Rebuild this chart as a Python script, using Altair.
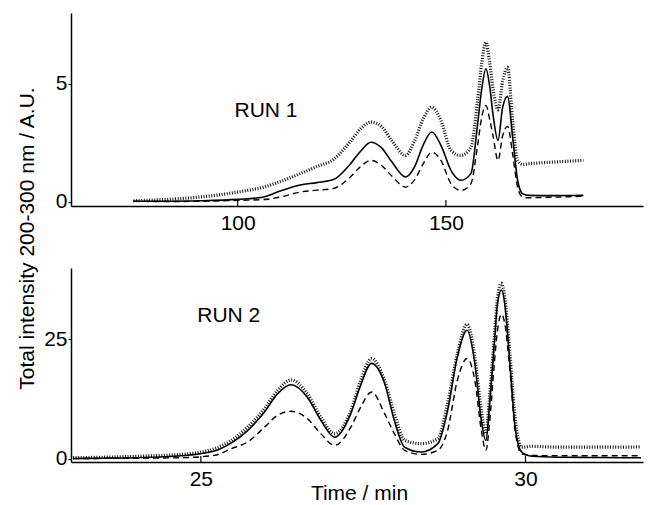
import altair as alt
import pandas as pd

# ---------------- data ----------------
# RUN 1 (top panel)
t1 = [75, 83, 91, 100, 106, 110, 115, 119, 123, 127, 129.5, 132, 134.5, 137, 140.3,
      142.5, 144.5, 146.6, 148.8, 151.2, 153.6, 156, 157.6, 158.6, 159.6, 160.5,
      161.3, 162.5, 163.6, 164.8, 166, 167.2, 168.4, 170, 175, 183]
solid1 = [0.03, 0.03, 0.05, 0.11, 0.2, 0.45, 0.72, 0.82, 0.95, 1.6, 2.15, 2.53, 2.3,
          1.7, 1.06, 1.5, 2.4, 2.96, 2.4, 1.34, 0.92, 1.2, 3.3, 4.8, 5.64, 4.9, 3.7,
          2.6, 4.0, 4.47, 2.75, 0.92, 0.35, 0.28, 0.27, 0.28]
dashed1 = [0.03, 0.02, 0.03, 0.07, 0.1, 0.2, 0.42, 0.5, 0.57, 1.05, 1.5, 1.76, 1.55,
           1.1, 0.63, 0.95, 1.6, 2.11, 1.76, 0.78, 0.49, 0.78, 2.4, 3.6, 4.09, 3.5,
           2.8, 1.76, 2.8, 3.2, 2.04, 0.63, 0.21, 0.18, 0.2, 0.24]
dotted1 = [0.05, 0.11, 0.21, 0.42, 0.62, 0.85, 1.2, 1.5, 1.8, 2.55, 3.1, 3.38, 3.2,
           2.6, 1.97, 2.6, 3.5, 4.01, 3.45, 2.18, 1.97, 2.32, 4.3, 5.9, 6.76, 5.9,
           4.8, 3.9, 5.1, 5.7, 3.45, 1.76, 1.59, 1.62, 1.68, 1.76]

# RUN 2 (bottom panel)
t2 = [23.03, 23.5, 24.0, 24.7, 25.21, 25.47, 25.72, 25.98, 26.18, 26.39, 26.64,
      26.85, 27.06, 27.31, 27.45, 27.63, 27.83, 27.98, 28.14, 28.39, 28.65, 28.8,
      28.95, 29.1, 29.22, 29.32, 29.39, 29.45, 29.52, 29.57, 29.63, 29.68, 29.76,
      29.84, 29.94, 30.1, 30.5, 31.0, 31.5, 31.78]
solid2 = [0.05, 0.1, 0.2, 0.6, 1.6, 3.3, 5.9, 9.8, 13.6, 15.5, 12.9, 8.0, 4.5, 9.45,
          15.0, 20.0, 15.8, 8.0, 2.4, 1.39, 3.15, 10.1, 21.3, 26.95, 20.0, 8.0, 3.8,
          12.0, 24.2, 32.6, 35.4, 32.6, 20.0, 6.6, 1.4, 0.5, 0.3, 0.25, 0.2, 0.2]
dashed2 = [0.0, 0.05, 0.1, 0.2, 0.7, 2.1, 3.5, 6.6, 9.1, 9.94, 8.4, 5.2, 2.8, 6.6,
           10.5, 14.0, 9.45, 5.25, 1.74, 0.9, 1.74, 5.9, 16.4, 21.0, 16.4, 5.9, 1.74,
           8.0, 20.0, 27.0, 30.3, 28.4, 18.5, 5.9, 1.05, 0.7, 0.6, 0.6, 0.6, 0.6]
dotted2 = [0.2, 0.3, 0.5, 0.9, 2.1, 3.84, 6.6, 10.5, 14.3, 16.5, 13.6, 8.7, 5.25, 10.1,
           16.0, 21.0, 16.4, 9.45, 3.84, 3.15, 4.2, 11.6, 22.0, 28.2, 21.3, 10.1, 5.25,
           13.5, 25.5, 34.0, 36.8, 34.0, 22.0, 8.7, 2.4, 2.6, 2.4, 2.4, 2.4, 2.5]

x1_ticks = [100, 150]
y1_ticks = [0, 5]
x2_ticks = [25, 30]
y2_ticks = [0, 25]
x1_domain = [60, 197.3]
y1_domain = [-0.17, 8]
x2_domain = [23, 31.81]
y2_domain = [-0.7, 40]
run_labels = ["RUN 1", "RUN 2"]
run_x = [106.8, 25.43]
run_y = [3.87, 29.9]

# ---------------- styling ----------------
FONT = "Liberation Sans"
FS = 21
W = 572
H1 = 193
H2 = 194

STYLES = {
    "dotted": dict(strokeWidth=3.2, strokeDash=[1, 1.6], color="#111111"),
    "dashed": dict(strokeWidth=1.4, strokeDash=[6, 4], color="black"),
    "solid": dict(strokeWidth=1.6, color="black"),
}


def to_long(t, solid, dashed, dotted):
    rows = []
    for name, vals in (("dotted", dotted), ("dashed", dashed), ("solid", solid)):
        for ti, vi in zip(t, vals):
            rows.append({"t": ti, "v": vi, "series": name})
    return pd.DataFrame(rows)


def panel(t, solid, dashed, dotted, xdom, ydom, xt, yt, label, lx, ly, H,
          ytitle_kw, xtitle_kw):
    df = to_long(t, solid, dashed, dotted)
    xs = alt.Scale(domain=xdom, nice=False, zero=False)
    ys = alt.Scale(domain=ydom, nice=False, zero=False)

    xaxis = alt.Axis(values=xt, ticks=False, tickSize=0, grid=False, format="d",
                     domainColor="black", domainWidth=1.5,
                     labelFont=FONT, labelFontSize=FS, labelColor="black",
                     labelPadding=6, labelFlush=False, **xtitle_kw)
    yaxis = alt.Axis(values=yt, tickSize=3, tickWidth=1.2, tickColor="black",
                     grid=False, format="d",
                     domainColor="black", domainWidth=1.5,
                     labelFont=FONT, labelFontSize=FS, labelColor="black",
                     labelPadding=1, labelFlush=False, **ytitle_kw)

    layers = []
    for name in ("dotted", "dashed", "solid"):
        layers.append(
            alt.Chart(df)
            .transform_filter(alt.datum.series == name)
            .mark_line(interpolate="monotone", **STYLES[name])
            .encode(x=alt.X("t:Q", scale=xs, axis=xaxis),
                    y=alt.Y("v:Q", scale=ys, axis=yaxis))
        )

    tickdf = pd.DataFrame({"t": xt})
    ticks = alt.Chart(tickdf).mark_rule(
        color="black", strokeWidth=1.2
    ).encode(
        x=alt.X("t:Q", scale=xs, axis=xaxis),
        y=alt.value(H - 6),
        y2=alt.value(H),
    )

    txt = alt.Chart(pd.DataFrame({"lab": [label], "t": [lx], "v": [ly]})).mark_text(
        font=FONT, fontSize=FS, color="black", align="center", baseline="middle"
    ).encode(
        x=alt.X("t:Q", scale=xs, axis=xaxis),
        y=alt.Y("v:Q", scale=ys, axis=yaxis),
        text="lab:N",
    )

    return alt.layer(*layers, ticks, txt).properties(width=W, height=H)


top = panel(t1, solid1, dashed1, dotted1, x1_domain, y1_domain, x1_ticks, y1_ticks,
            run_labels[0], run_x[0], run_y[0], H1,
            ytitle_kw=dict(title=None), xtitle_kw=dict(title=None))

bottom = panel(t2, solid2, dashed2, dotted2, x2_domain, y2_domain, x2_ticks, y2_ticks,
               run_labels[1], run_x[1], run_y[1], H2,
               ytitle_kw=dict(title="Total intensity 200-300 nm / A.U.",
                              titleFont=FONT, titleFontSize=FS,
                              titleFontWeight="normal", titleColor="black",
                              titleAngle=270, titleAlign="center",
                              titleBaseline="alphabetic", titleX=-38, titleY=-30),
               xtitle_kw=dict(title="Time / min",
                              titleFont=FONT, titleFontSize=FS,
                              titleFontWeight="normal", titleColor="black",
                              titleAlign="center", titleBaseline="alphabetic",
                              titleX=288, titleY=37))

chart = alt.vconcat(top, bottom, spacing=62, bounds="flush").properties(
    padding={"left": 15, "top": 13, "right": 0, "bottom": 0},
    background="white",
).configure_view(stroke=None)

chart.save("out.html", embed_options={"renderer": "svg", "actions": False})
